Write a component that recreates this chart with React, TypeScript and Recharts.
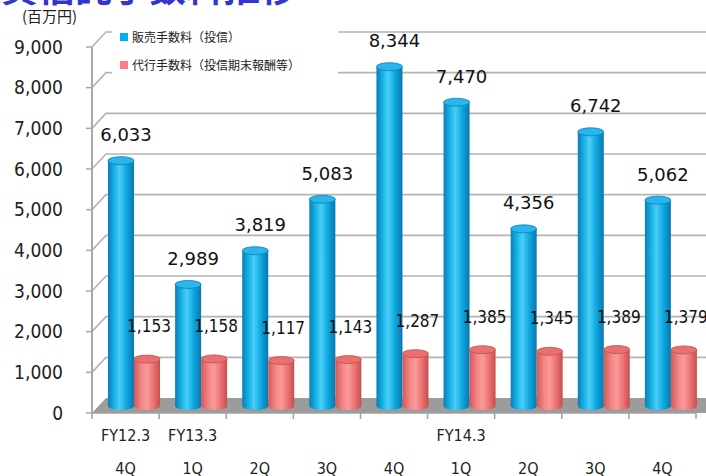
import { Bar, BarChart, CartesianGrid, LabelList, XAxis, YAxis } from "recharts"

const quarters = ["4Q", "1Q", "2Q", "3Q", "4Q", "1Q", "2Q", "3Q", "4Q"]
const fiscalYears = ["FY12.3", "FY13.3", "", "", "", "FY14.3", "", "", ""]
const salesFees = [6033, 2989, 3819, 5083, 8344, 7470, 4356, 6742, 5062]
const agencyFees = [1153, 1158, 1117, 1143, 1287, 1385, 1345, 1389, 1379]
const yTicks = [0, 1000, 2000, 3000, 4000, 5000, 6000, 7000, 8000, 9000]

const chartData = quarters.map((q, i) => ({
    idx: i,
    quarter: q,
    fy: fiscalYears[i],
    sales: salesFees[i],
    agency: agencyFees[i],
}))

// fake 3D depth
const DX = 8
const DY = -7
const DEPTH_X = 14
const DEPTH_Y = -15
const BAND = (706 - 92 - 10) / quarters.length

const fmt = (v: number) => v.toLocaleString("en-US")

const Cylinder = (props: any) => {
    const { x, y, width, height, color } = props
    if (!height) return null
    const left = x + DX
    const top = y + DY
    const bottom = y + height + DY
    const rx = width / 2
    const ry = 4
    const dark = color === "blue" ? "#0a80b8" : "#c05050"
    const cap = color === "blue" ? "#2ab6ea" : "#ea7070"
    return (
        <g>
            <ellipse cx={left + rx} cy={bottom} rx={rx} ry={ry} fill={`url(#grad-${color})`} />
            <rect x={left} y={top} width={width} height={bottom - top} fill={`url(#grad-${color})`} />
            <ellipse cx={left + rx} cy={top} rx={rx} ry={ry} fill={cap} stroke={dark} strokeWidth={0.8} />
        </g>
    )
}

const GridLine = (p: any) => {
    const { x1, x2, y1 } = p
    if (y1 >= 412) {
        return (
            <polygon
                key={p.key}
                points={`${x1},${y1} ${x1 + DEPTH_X},${y1 + DEPTH_Y} ${x2 + DEPTH_X + 20},${y1 + DEPTH_Y} ${x2 + 20},${y1}`}
                fill="#9c9c9c"
            />
        )
    }
    return (
        <path
            key={p.key}
            d={`M${x1},${y1} L${x1 + DEPTH_X},${y1 + DEPTH_Y} L${x2 + 30},${y1 + DEPTH_Y}`}
            stroke="#b4b4b4"
            strokeWidth={1.6}
            fill="none"
        />
    )
}

const XTick = (props: any) => {
    const { x, y, payload } = props
    const i = payload.value
    const d = chartData[i]
    return (
        <g>
            <line x1={x - BAND / 2} y1={y - 8} x2={x - BAND / 2} y2={y - 2} stroke="#a0a0a0" strokeWidth={1.5} />
            {i === quarters.length - 1 && (
                <line x1={x + BAND / 2} y1={y - 8} x2={x + BAND / 2} y2={y - 2} stroke="#a0a0a0" strokeWidth={1.5} />
            )}
            <text x={x} y={y + 14} textAnchor="middle" dominantBaseline="central" fontSize={16}
                fontFamily="DejaVu Sans Condensed, DejaVu Sans" fill="#222">
                {d.fy}
            </text>
            <text x={x} y={y + 47} textAnchor="middle" dominantBaseline="central" fontSize={16}
                fontFamily="DejaVu Sans Condensed, DejaVu Sans" fill="#222">
                {d.quarter}
            </text>
        </g>
    )
}

const SalesLabel = (props: any) => {
    const { x, y, width, value } = props
    return (
        <text x={x + width} y={y - 33} textAnchor="middle" dominantBaseline="central" fontSize={18}
            fontFamily="DejaVu Sans" fill="#111">
            {fmt(value)}
        </text>
    )
}

const AgencyLabel = (props: any) => {
    const { x, y, width, value } = props
    return (
        <text x={x + width / 2 + DX + 2} y={y - 40} textAnchor="middle" dominantBaseline="central" fontSize={17}
            fontFamily="DejaVu Sans Condensed, DejaVu Sans" fill="#111">
            {fmt(value)}
        </text>
    )
}

const App = () => {
    return (
        <div style={{ position: "absolute", left: 0, top: 0, width: 706, height: 476, overflow: "hidden", background: "#fff" }}>
            <div style={{
                position: "absolute", left: -36, top: -36, fontSize: 37, fontWeight: "bold", color: "#3434d0",
                fontFamily: "Noto Sans CJK JP", whiteSpace: "nowrap", lineHeight: "44px",
            }}>
                投資信託手数料推移
            </div>
            <div style={{ position: "absolute", left: 22, top: 6, fontSize: 15, color: "#222", fontFamily: "Noto Sans CJK JP", lineHeight: "20px" }}>
                (百万円)
            </div>
            <BarChart
                width={706}
                height={476}
                data={chartData}
                margin={{ top: 47, right: 10, bottom: 0, left: 0 }}
                barSize={26}
                barGap={0}
            >
                <defs>
                    <linearGradient id="grad-blue" x1="0" y1="0" x2="1" y2="0">
                        <stop offset="0%" stopColor="#0a7db6" />
                        <stop offset="25%" stopColor="#17b4e8" />
                        <stop offset="45%" stopColor="#4ccdf5" />
                        <stop offset="70%" stopColor="#0eaae2" />
                        <stop offset="100%" stopColor="#0a76ae" />
                    </linearGradient>
                    <linearGradient id="grad-red" x1="0" y1="0" x2="1" y2="0">
                        <stop offset="0%" stopColor="#d45858" />
                        <stop offset="30%" stopColor="#f48888" />
                        <stop offset="50%" stopColor="#f89a9a" />
                        <stop offset="75%" stopColor="#ec7272" />
                        <stop offset="100%" stopColor="#c44e4e" />
                    </linearGradient>
                </defs>
                <CartesianGrid vertical={false} horizontal={GridLine} />
                <XAxis
                    dataKey="idx"
                    type="category"
                    height={63}
                    axisLine={{ stroke: "#a0a0a0", strokeWidth: 1.5 }}
                    tickLine={false}
                    tick={<XTick />}
                    interval={0}
                />
                <YAxis
                    domain={[0, 9000]}
                    ticks={yTicks}
                    width={92}
                    tickSize={6}
                    tickMargin={23}
                    interval={0}
                    tickFormatter={fmt}
                    axisLine={{ stroke: "#a8a8a8", strokeWidth: 2 }}
                    tickLine={{ stroke: "#a8a8a8", strokeWidth: 1.5 }}
                    tick={{ fontSize: 19, fill: "#222", fontFamily: "DejaVu Sans Condensed, DejaVu Sans" }}
                />
                <Bar dataKey="sales" shape={<Cylinder color="blue" />} isAnimationActive={false}>
                    <LabelList dataKey="sales" content={<SalesLabel />} />
                </Bar>
                <Bar dataKey="agency" shape={<Cylinder color="red" />} isAnimationActive={false}>
                    <LabelList dataKey="agency" content={<AgencyLabel />} />
                </Bar>
            </BarChart>
            <div style={{
                position: "absolute", left: 112, top: 22, width: 226, height: 58, background: "#fff",
                fontFamily: "Noto Sans CJK JP", fontSize: 12, color: "#222",
            }}>
                <div style={{ position: "absolute", left: 8, top: 6, display: "flex", alignItems: "center", whiteSpace: "nowrap" }}>
                    <span style={{ width: 8, height: 8, background: "#00aeef", marginRight: 4, display: "inline-block" }} />
                    販売手数料（投信）
                </div>
                <div style={{ position: "absolute", left: 8, top: 34, display: "flex", alignItems: "center", whiteSpace: "nowrap" }}>
                    <span style={{ width: 8, height: 8, background: "#ff7c80", marginRight: 4, display: "inline-block" }} />
                    代行手数料（投信期末報酬等）
                </div>
            </div>
        </div>
    )
}

export default App
